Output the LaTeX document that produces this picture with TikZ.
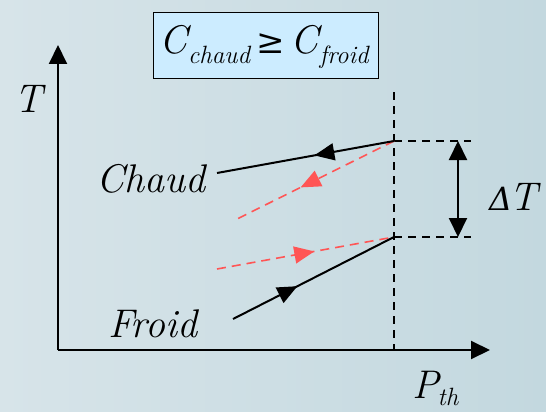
\documentclass[tikz,border=0pt]{standalone}
\usepackage{fontspec}
\newfontfamily\symf{DejaVu Serif}
\usetikzlibrary{arrows.meta,decorations.markings}
\definecolor{bgL}{RGB}{215,228,233}
\definecolor{bgR}{RGB}{195,216,223}
\definecolor{boxfill}{RGB}{204,236,255}
\definecolor{redd}{RGB}{255,85,85}
\tikzset{
  lbl/.style={inner sep=0pt, anchor=base west, font=\rmfamily\fontsize{40}{48}\selectfont\itshape},
  axis/.style={line width=2pt, -{Triangle[length=19pt,width=18pt]}},
  guide/.style={line width=1.6pt, dash pattern=on 8pt off 6pt},
  hotline/.style={line width=2pt},
  redline/.style={line width=1.6pt, redd, dash pattern=on 9pt off 6pt},
  midarrow/.style={postaction={decorate}, decoration={markings,
     mark=at position #1 with {\arrow{Triangle[length=20pt,width=17pt]}}}},
}
\newcommand{\sbs}[2]{\raisebox{-#1}{\rmfamily\fontsize{25}{25}\selectfont\itshape #2}}
\begin{document}
\begin{tikzpicture}[x=1pt,y=-1pt]
\shade[left color=bgL, right color=bgR] (0,0) rectangle (546,412);
\useasboundingbox (0,0) rectangle (546,412);
% formula box
\node[draw, line width=1.3pt, fill=boxfill, minimum width=225pt, minimum height=66pt, inner sep=0pt, anchor=north west] (box) at (153,12) {};
\node[lbl] (formula) at (159,53) {C\kern1pt\sbs{10pt}{chaud}\kern6pt{\symf\upshape\fontsize{34}{40}\selectfont ≥}\kern6pt C\kern1pt\sbs{10pt}{froid}};
% axes
\coordinate (O) at (58,350);
\coordinate (ytip) at (58,45);
\coordinate (xtip) at (490,350);
\draw[axis] (O) -- (ytip);
\draw[axis] (O) -- (xtip);
% key points
\coordinate (hot) at (394,141);
\coordinate (cold) at (394,237);
\coordinate (vtop) at (394,92);
\coordinate (vbot) at (394,350);
\coordinate (hr) at (471,141);
\coordinate (cr) at (471,237);
\coordinate (dt1) at (458,141);
\coordinate (dt2) at (458,237);
\coordinate (chaudend) at (217,173);
\coordinate (froidend) at (233,319);
\coordinate (redtopend) at (233,221);
\coordinate (redbotstart) at (217,269);
% guides
\draw[guide] (vtop) -- (vbot);
\draw[guide] (hot) -- (hr);
\draw[guide] (cold) -- (cr);
\draw[line width=2pt, {Triangle[length=19pt,width=18pt]}-{Triangle[length=19pt,width=18pt]}] (dt1) -- (dt2);
% red dashed
\draw[redline, midarrow=0.58] (hot) -- (redtopend);
\draw[redline, midarrow=0.55] (redbotstart) -- (cold);
% solid lines
\draw[hotline, midarrow=0.45] (hot) -- (chaudend);
\draw[hotline, midarrow=0.4] (froidend) -- (cold);
% labels
\node[lbl] (T) at (14,112) {T};
\node[lbl] (chaud) at (96,192) {Chaud};
\node[lbl] (froid) at (108,337) {Froid};
\node[lbl] (dT) at (489,210) {{\symf\itshape\fontsize{32}{40}\selectfont Δ}\kern-3pt T};
\node[lbl] (P) at (412,398) {P\kern-1pt\sbs{7pt}{th}};
\end{tikzpicture}
\end{document}
